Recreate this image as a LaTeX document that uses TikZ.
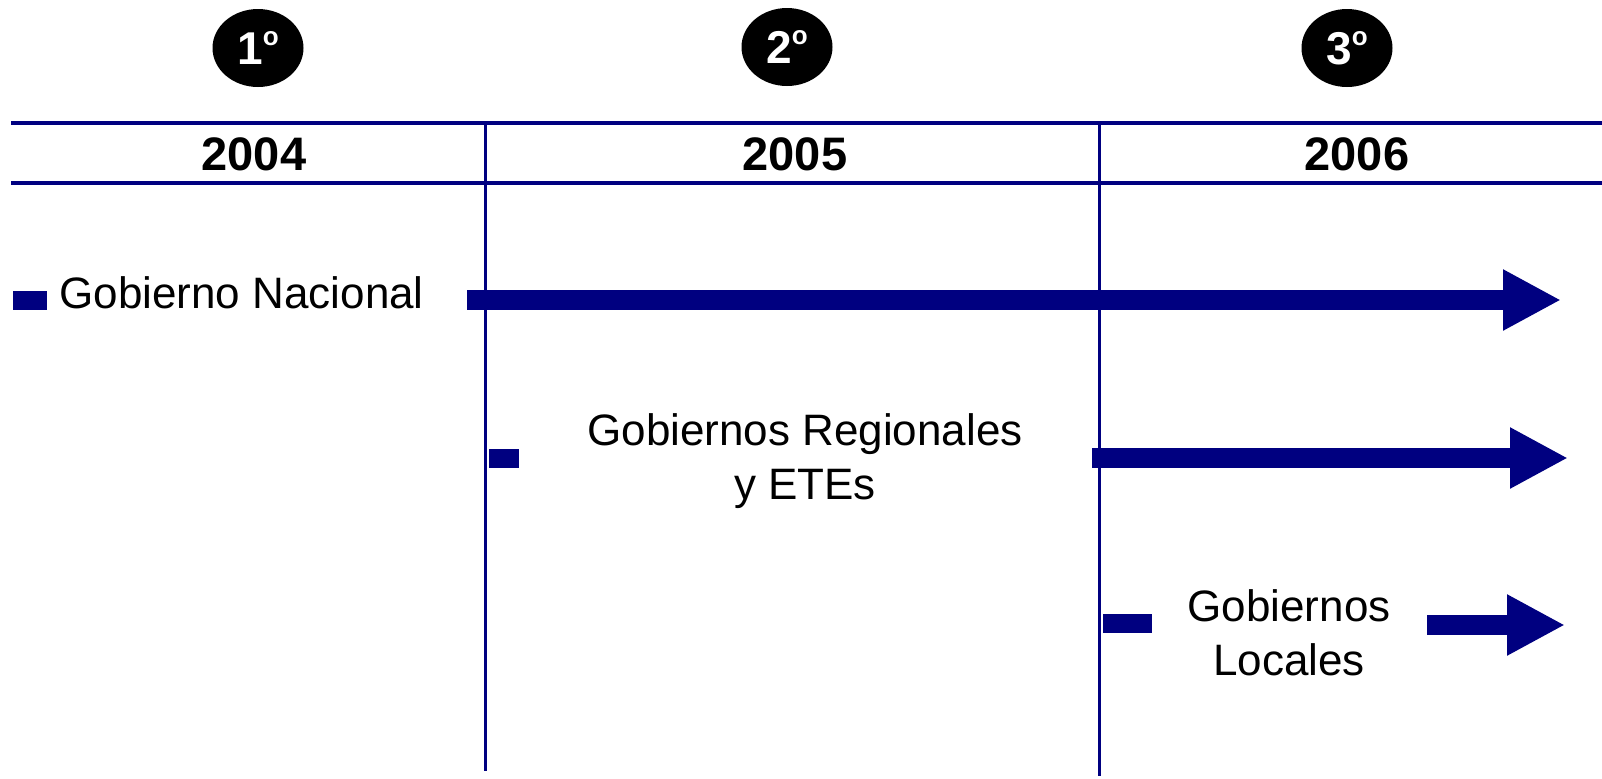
\documentclass[tikz,border=0pt]{standalone}
\usepackage{fontspec}
\setmainfont{Liberation Sans}
\usetikzlibrary{shapes.geometric,arrows.meta}
\definecolor{navy}{RGB}{0,0,128}
\newcommand{\ordo}{\raisebox{9.3pt}{\fontsize{13}{13}\selectfont o}}
\tikzset{
  x=0.5pt,y=-0.5pt,
  stepoval/.style={ellipse,fill=black,text=white,minimum width=45.5pt,minimum height=39pt,inner sep=0pt,font=\fontsize{23}{27}\selectfont\bfseries},
  yearlbl/.style={font=\fontsize{23.5}{28}\selectfont\bfseries,inner sep=0pt},
  govlbl/.style={font=\fontsize{22}{27}\selectfont,inner sep=0pt,align=center},
  hline/.style={navy,line width=2pt},
  vline/.style={navy,line width=1.5pt},
  barbox/.style={fill=navy,inner sep=0pt,minimum height=9.5pt},
  bigarrow/.style={navy,line width=10pt,-{Triangle[length=29pt,width=28.5pt]}},
}
\begin{document}
\begin{tikzpicture}
\useasboundingbox (0,0) rectangle (1602,778);
% step ovals
\node[stepoval] (s1) at (258,48) {1\ordo};
\node[stepoval] (s2) at (787,47) {2\ordo};
\node[stepoval] (s3) at (1347,48) {3\ordo};
% header lines
\coordinate (hl1a) at (11,123); \coordinate (hl1b) at (1602,123);
\coordinate (hl2a) at (11,183); \coordinate (hl2b) at (1602,183);
\draw[hline] (hl1a) -- (hl1b);
\draw[hline] (hl2a) -- (hl2b);
% vertical separators
\coordinate (v1a) at (485,123); \coordinate (v1b) at (485,771);
\coordinate (v2a) at (1099,123); \coordinate (v2b) at (1099,776);
\draw[vline] (v1a) -- (v1b);
\draw[vline] (v2a) -- (v2b);
% years
\node[yearlbl,anchor=base] (y1) at (254,170) {2004};
\node[yearlbl,anchor=base] (y2) at (795,170) {2005};
\node[yearlbl,anchor=base] (y3) at (1357,170) {2006};
% Gobierno Nacional
\node[barbox,minimum width=17pt] (b1) at (30,300) {};
\node[govlbl,anchor=base west] (g1) at (59,308) {Gobierno Nacional};
\coordinate (a1s) at (467,300); \coordinate (a1e) at (1561,300);
\draw[bigarrow] (a1s) -- (a1e);
% Gobiernos Regionales
\node[barbox,minimum width=15pt] (b2) at (504,458) {};
\node[govlbl] (g2) at (805,461) {Gobiernos Regionales\\y ETEs};
\coordinate (a2s) at (1092,458); \coordinate (a2e) at (1568,458);
\draw[bigarrow] (a2s) -- (a2e);
% Gobiernos Locales
\node[barbox,minimum width=24.5pt] (b3) at (1127.5,623) {};
\node[govlbl] (g3) at (1289,633) {Gobiernos\\Locales};
\coordinate (a3s) at (1427,625); \coordinate (a3e) at (1565,625);
\draw[bigarrow] (a3s) -- (a3e);
\end{tikzpicture}
\end{document}
